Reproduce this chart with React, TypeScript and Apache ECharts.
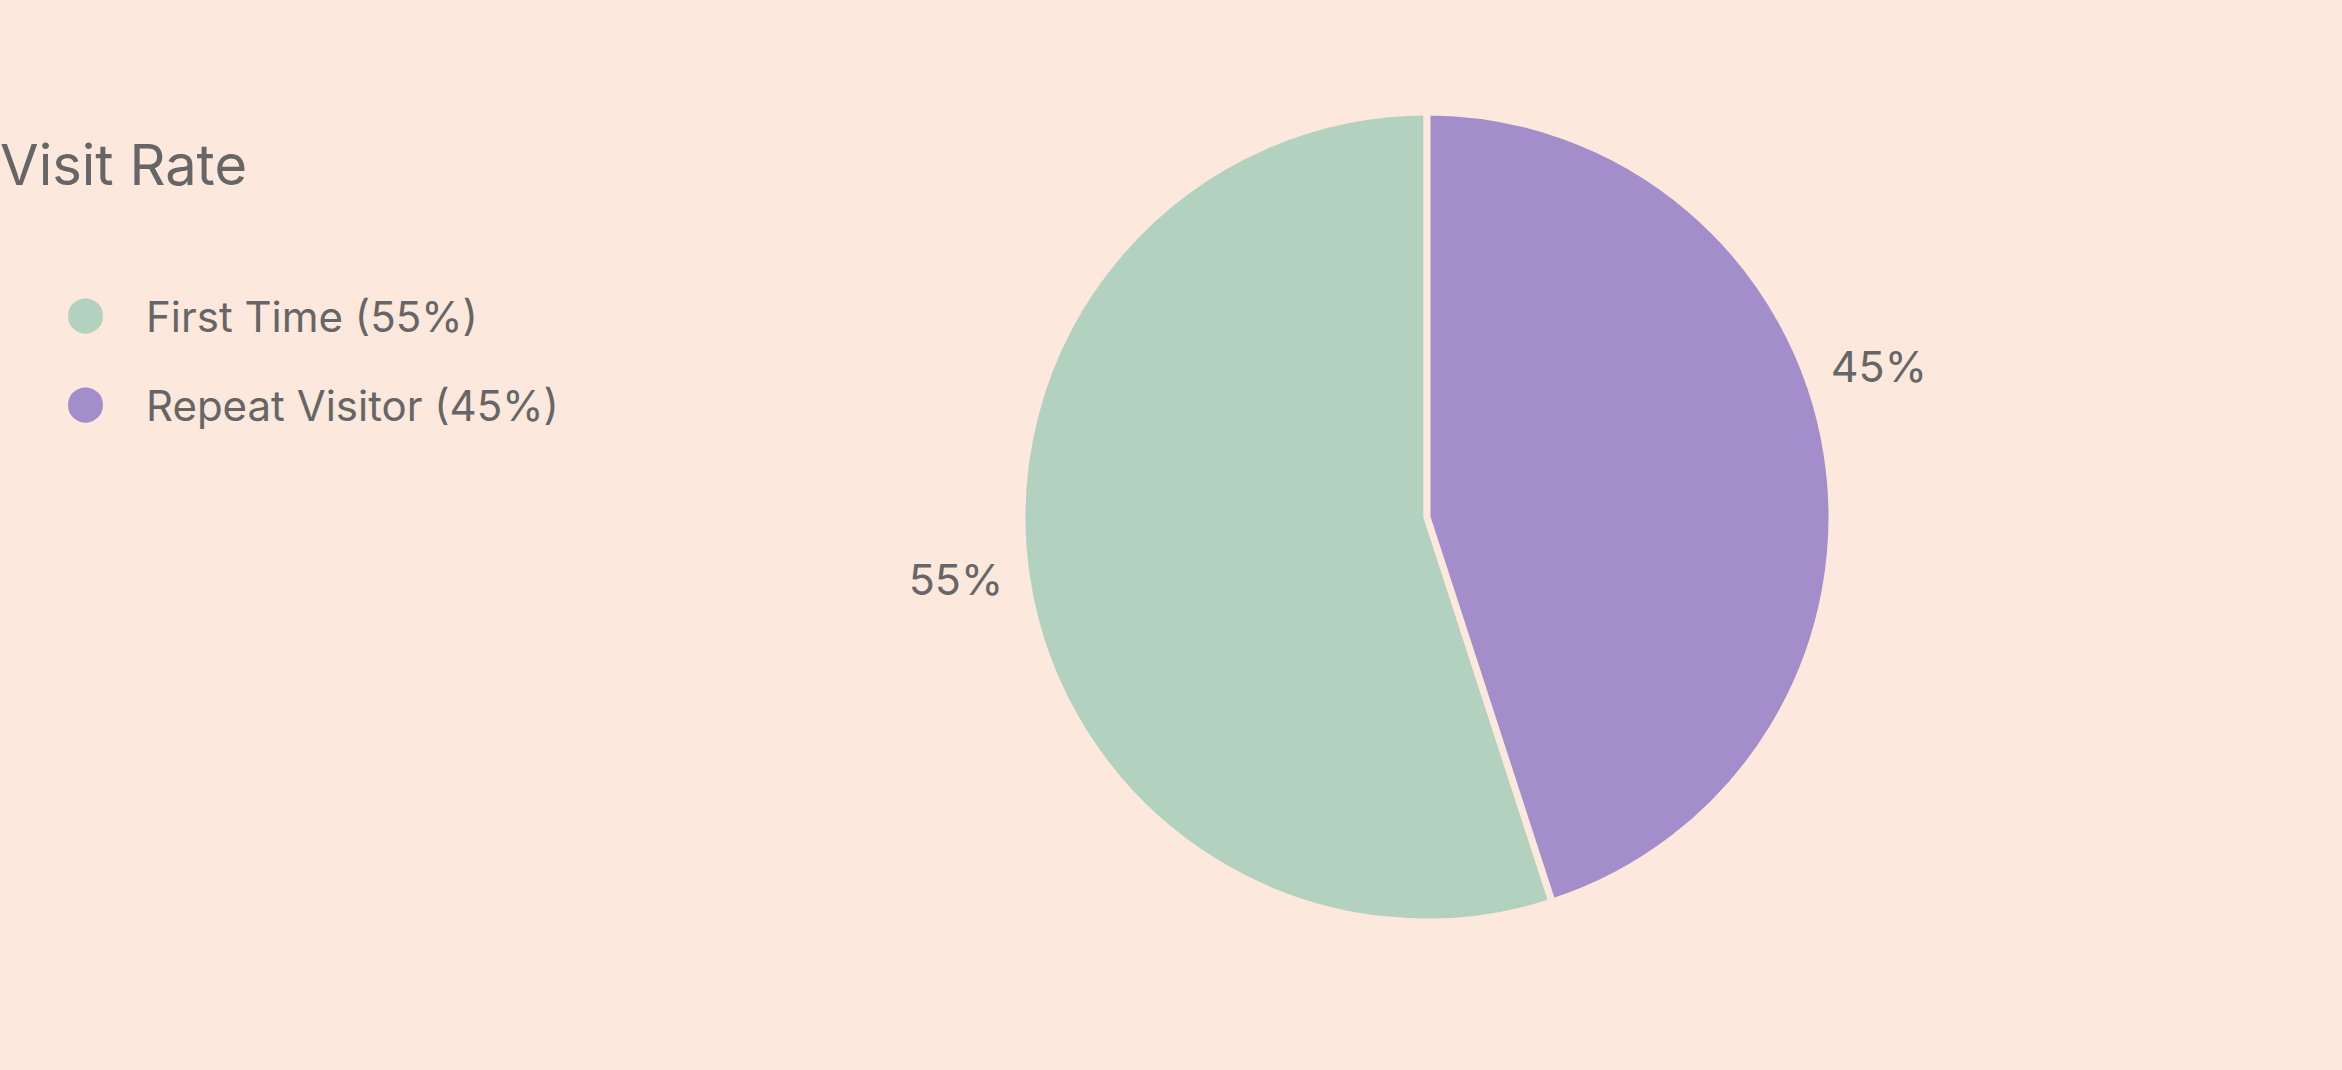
import React, { useEffect, useRef } from "react";
import * as echarts from "echarts";

const titleText = "Visit Rate";
const categories = ["First Time", "Repeat Visitor"];
const values = [55, 45];
const colors = ["#b3d1bf", "#a38ecb"];

const BG = "#fce8dc";
const TEXT = "#666666";
const FONT = "Inter";

export default function App() {
  const ref = useRef<HTMLDivElement>(null);
  useEffect(() => {
    document.body.style.margin = "0";
    const chart = echarts.init(ref.current!, undefined, { renderer: "svg" });
    const total = values.reduce((a, b) => a + b, 0);
    chart.setOption({
      animation: false,
      backgroundColor: BG,
      title: {
        text: titleText,
        left: 0,
        top: 137,
        padding: 0,
        textStyle: { fontFamily: FONT, fontSize: 56, fontWeight: "normal", color: TEXT },
      },
      legend: {
        orient: "vertical",
        left: 66,
        top: 295,
        padding: 0,
        icon: "circle",
        itemWidth: 37,
        itemHeight: 37,
        itemGap: 47,
        textStyle: { fontFamily: FONT, fontSize: 42, color: TEXT, padding: [0, 0, 0, 37] },
        data: categories,
        formatter: (name: string) => {
          const i = categories.indexOf(name);
          return `${name} (${Math.round((values[i] / total) * 100)}%)`;
        },
      },
      series: [
        {
          type: "pie",
          center: [1427, 517],
          radius: 405,
          clockwise: false,
          startAngle: 90,
          itemStyle: { borderColor: BG, borderWidth: 7 },
          label: {
            show: true,
            position: "outside",
            formatter: "{d}%",
            fontFamily: FONT,
            fontSize: 43,
            color: TEXT,
          },
          labelLine: { show: false, length: 15, length2: 15 },
          labelLayout: (p: any) => (p.dataIndex === 1 ? { dx: -31, dy: -85 } : { dx: 11, dy: -4 }),
          emphasis: { disabled: true },
          data: categories.map((name, i) => ({
            name,
            value: values[i],
            itemStyle: { color: colors[i] },
          })),
        },
      ],
    });
    return () => chart.dispose();
  }, []);
  return <div ref={ref} style={{ width: 2342, height: 1070 }} />;
}
